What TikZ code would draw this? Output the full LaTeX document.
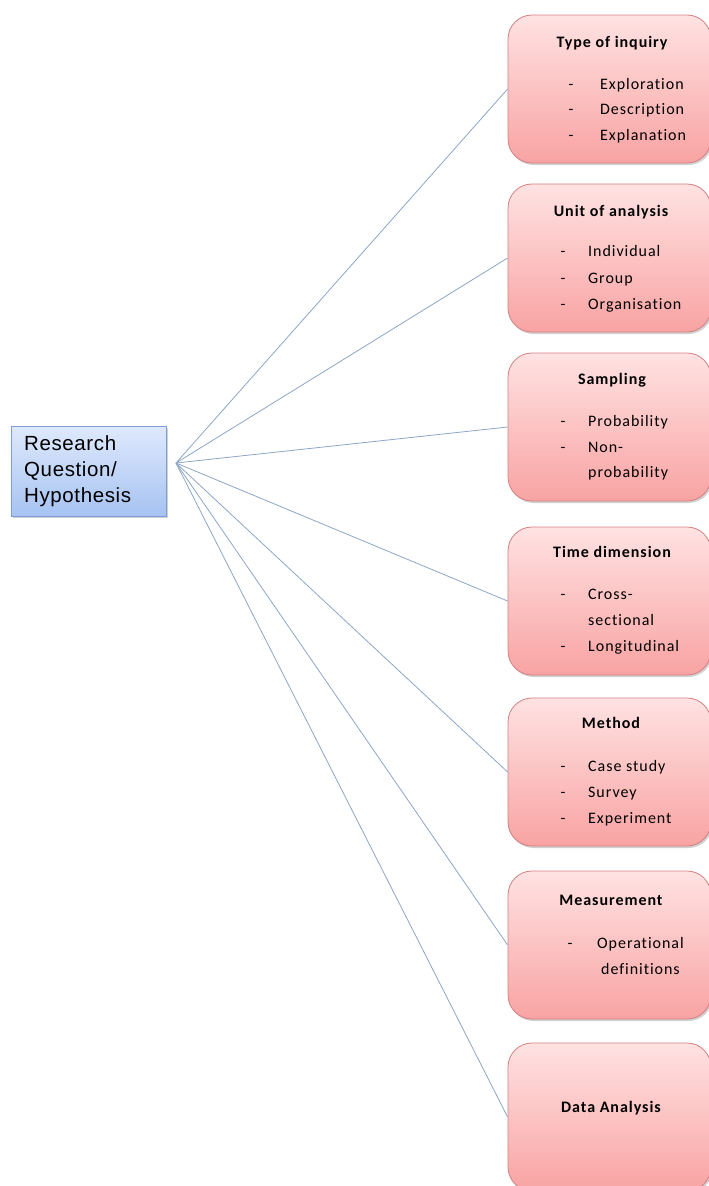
\documentclass[tikz,border=0pt]{standalone}
\usepackage{fontspec}
\setmainfont[LetterSpace=6,Ligatures={NoCommon}]{Carlito}
\newfontfamily\arialf[LetterSpace=3]{Liberation Sans}
\usetikzlibrary{shadows}
\definecolor{pinktop}{HTML}{FFE2E2}
\definecolor{pinkbot}{HTML}{F9A3A3}
\definecolor{pinkline}{HTML}{D58080}
\definecolor{bluetop}{HTML}{DFE9FC}
\definecolor{bluebot}{HTML}{A6C3F2}
\definecolor{blueline}{HTML}{7C9DD6}
\definecolor{connc}{HTML}{8CA5C8}
\begin{document}
\begin{tikzpicture}[x=1pt,y=-1pt,
  pinkbox/.style={draw=pinkline, line width=0.8pt, rounded corners=24pt,
    top color=pinktop, bottom color=pinkbot, minimum width=203pt, minimum height=148pt,
    inner sep=0pt, drop shadow={shadow xshift=1.5pt, shadow yshift=-2pt, fill=black, opacity=0.18}},
  rqbox/.style={draw=blueline, line width=0.8pt, top color=bluetop, bottom color=bluebot,
    minimum width=155pt, minimum height=90pt, inner sep=0pt,
    drop shadow={shadow xshift=1.5pt, shadow yshift=-2pt, fill=black, opacity=0.18}},
  conn/.style={draw=connc, line width=0.8pt},
  ttl/.style={anchor=base, font=\fontsize{16}{18}\selectfont\bfseries, inner sep=0pt},
  itm/.style={anchor=base west, font=\fontsize{16}{18}\selectfont, inner sep=0pt},
  dsh/.style={anchor=base, font=\fontsize{16}{18}\selectfont, inner sep=0pt},
  rqt/.style={anchor=base west, font=\arialf\fontsize{20.5}{24}\selectfont, inner sep=0pt}]
\useasboundingbox (0,0) rectangle (709,1186);
% left box
\node[rqbox] (rq) at (88.5,471) {};
\node[rqt] (rq1) at (24,450) {Research};
\node[rqt] (rq2) at (24,476) {Question/};
\node[rqt] (rq3) at (24,502) {Hypothesis};
\coordinate (hub) at (176,463);
% right boxes
\node[pinkbox] (b1) at (609.5,89) {};
\node[pinkbox] (b2) at (609.5,258) {};
\node[pinkbox] (b3) at (609.5,427) {};
\node[pinkbox] (b4) at (609.5,601) {};
\node[pinkbox] (b5) at (609.5,772) {};
\node[pinkbox] (b6) at (609.5,945) {};
\node[pinkbox] (b7) at (609.5,1117) {};
% connectors
\foreach \b in {b1,b2,b3,b4,b5,b6,b7}{\draw[conn] (hub) -- (\b.west);}
% box 1
\node[ttl] (t1) at (612,47) {Type of inquiry};
\node[dsh] (d11) at (571,89) {-};
\node[itm] (i11) at (600,89) {Exploration};
\node[dsh] (d12) at (571,114) {-};
\node[itm] (i12) at (600,114) {Description};
\node[dsh] (d13) at (571,140) {-};
\node[itm] (i13) at (600,140) {Explanation};
% box 2
\node[ttl] (t2) at (611,216) {Unit of analysis};
\node[dsh] (d21) at (563,256) {-};
\node[itm] (i21) at (588,256) {Individual};
\node[dsh] (d22) at (563,283) {-};
\node[itm] (i22) at (588,283) {Group};
\node[dsh] (d23) at (563,309) {-};
\node[itm] (i23) at (588,309) {Organisation};
% box 3
\node[ttl] (t3) at (612,384) {Sampling};
\node[dsh] (d31) at (563,426) {-};
\node[itm] (i31) at (588,426) {Probability};
\node[dsh] (d32) at (563,452) {-};
\node[itm] (i32) at (588,452) {Non-};
\node[itm] (i33) at (588,477) {probability};
% box 4
\node[ttl] (t4) at (612,557) {Time dimension};
\node[dsh] (d41) at (563,599) {-};
\node[itm] (i41) at (588,599) {Cross-};
\node[itm] (i42) at (588,625) {sectional};
\node[dsh] (d43) at (563,651) {-};
\node[itm] (i43) at (588,651) {Longitudinal};
% box 5
\node[ttl] (t5) at (611,728) {Method};
\node[dsh] (d51) at (563,771) {-};
\node[itm] (i51) at (588,771) {Case study};
\node[dsh] (d52) at (563,797) {-};
\node[itm] (i52) at (588,797) {Survey};
\node[dsh] (d53) at (563,823) {-};
\node[itm] (i53) at (588,823) {Experiment};
% box 6
\node[ttl] (t6) at (611,905) {Measurement};
\node[dsh] (d61) at (570,948) {-};
\node[itm] (i61) at (597,948) {Operational};
\node[itm] (i62) at (601,974) {definitions};
% box 7
\node[ttl] (t7) at (611,1112) {Data Analysis};
\end{tikzpicture}
\end{document}
